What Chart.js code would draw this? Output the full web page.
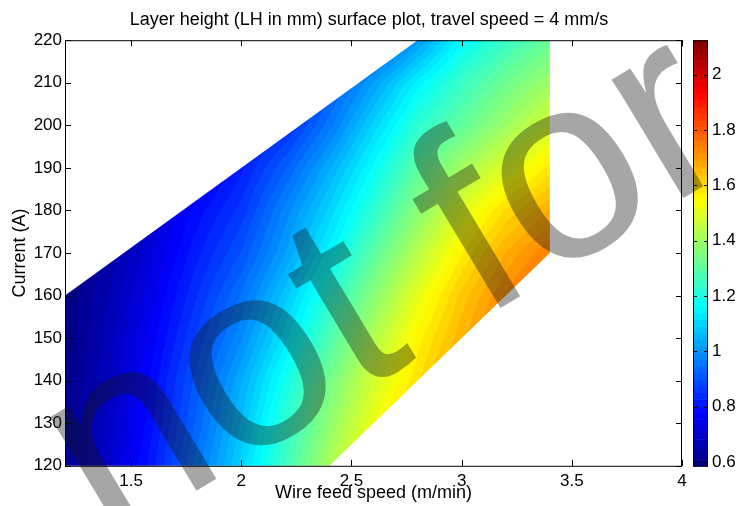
<!DOCTYPE html>
<html lang="en">
<head>
<meta charset="UTF-8">
<title>Layer height surface plot</title>
<script src="https://cdn.jsdelivr.net/npm/chart.js@4"></script>
<style>
  html, body { margin: 0; padding: 0; background: #fff; }
  canvas { display: block; }
</style>
</head>
<body>
<canvas id="lhChart" width="738" height="506"></canvas>
<script>
// grid of the surface: wire feed speed (m/min) and current (A)
const wfsGrid = [1.2, 1.4, 1.6, 1.8, 2.0, 2.2, 2.4, 2.6, 2.8, 3.0, 3.2, 3.4];
const currentGrid = [120, 130, 140, 150, 160, 170, 180, 190, 200, 210, 220];

// layer height (mm), one row per current value, null = far outside the window
const lh120 = [0.62, 0.70, 0.82, 0.96, 1.10, 1.26, 1.42, 1.58, null, null, null, null];
const lh130 = [0.61, 0.69, 0.80, 0.93, 1.07, 1.23, 1.38, 1.52, 1.65, null, null, null];
const lh140 = [0.60, 0.68, 0.79, 0.91, 1.04, 1.19, 1.34, 1.48, 1.59, 1.71, null, null];
const lh150 = [0.59, 0.67, 0.77, 0.88, 0.99, 1.13, 1.28, 1.43, 1.56, 1.66, 1.76, null];
const lh160 = [0.59, 0.66, 0.75, 0.85, 0.95, 1.08, 1.22, 1.37, 1.51, 1.63, 1.72, 1.80];
const lh170 = [0.58, 0.64, 0.73, 0.82, 0.90, 1.02, 1.15, 1.30, 1.44, 1.57, 1.67, 1.74];
const lh180 = [null, 0.62, 0.71, 0.79, 0.86, 0.98, 1.10, 1.23, 1.37, 1.50, 1.60, 1.67];
const lh190 = [null, null, null, 0.74, 0.82, 0.92, 1.04, 1.17, 1.30, 1.41, 1.50, 1.58];
const lh200 = [null, null, null, null, 0.78, 0.84, 0.96, 1.10, 1.23, 1.31, 1.40, 1.48];
const lh210 = [null, null, null, null, null, 0.80, 0.90, 1.02, 1.15, 1.25, 1.33, 1.40];
const lh220 = [null, null, null, null, null, null, null, 0.88, 1.01, 1.16, 1.25, 1.32];
const lhRows = [lh120, lh130, lh140, lh150, lh160, lh170, lh180, lh190, lh200, lh210, lh220];

// outline of the process window that is coloured
const windowWfs = [1.2, 1.2, 2.8, 3.4, 3.4, 2.4];
const windowCurrent = [120, 160, 220, 220, 170, 120];

const xTicks = [1.5, 2, 2.5, 3, 3.5, 4];
const yTicks = [120, 130, 140, 150, 160, 170, 180, 190, 200, 210, 220];
const cbTicks = [0.6, 0.8, 1, 1.2, 1.4, 1.6, 1.8, 2];
const cbMin = 0.586;
const cbMax = 2.125;
const nColors = 64;

const FONT = "'Liberation Sans', Arial, Helvetica, sans-serif";

// matlab style jet colormap
function jet(t) {
  const c = v => Math.round(255 * Math.max(0, Math.min(1, v)));
  return [c(Math.min(4 * t - 1.5, -4 * t + 4.5)),
          c(Math.min(4 * t - 0.5, -4 * t + 3.5)),
          c(Math.min(4 * t + 0.5, -4 * t + 2.5))];
}
function colorIndex(v) {
  let k = Math.floor((v - cbMin) / (cbMax - cbMin) * nColors);
  return Math.max(0, Math.min(nColors - 1, k));
}

// bilinear lookup in the grid, skipping missing nodes
function lhAt(w, c) {
  let i = 0;
  while (i < wfsGrid.length - 2 && w > wfsGrid[i + 1]) i++;
  let j = 0;
  while (j < currentGrid.length - 2 && c > currentGrid[j + 1]) j++;
  const tx = (w - wfsGrid[i]) / (wfsGrid[i + 1] - wfsGrid[i]);
  const ty = (c - currentGrid[j]) / (currentGrid[j + 1] - currentGrid[j]);
  const nodes = [
    [lhRows[j][i], (1 - tx) * (1 - ty)],
    [lhRows[j][i + 1], tx * (1 - ty)],
    [lhRows[j + 1][i], (1 - tx) * ty],
    [lhRows[j + 1][i + 1], tx * ty]
  ];
  let s = 0, ws = 0;
  for (const [v, wt] of nodes) {
    if (v !== null) { s += v * wt; ws += wt; }
  }
  return ws > 0 ? s / ws : null;
}

const surfacePlugin = {
  id: 'surface',
  beforeDatasetsDraw(chart) {
    const {ctx, chartArea: area, scales: {x, y}} = chart;
    const w = Math.round(area.right - area.left);
    const h = Math.round(area.bottom - area.top);
    const off = document.createElement('canvas');
    off.width = w; off.height = h;
    const octx = off.getContext('2d');
    const img = octx.createImageData(w, h);
    const colors = [];
    for (let k = 0; k < nColors; k++) colors.push(jet((k + 0.5) / nColors));
    for (let py = 0; py < h; py++) {
      const c = y.getValueForPixel(area.top + py + 0.5);
      for (let px = 0; px < w; px++) {
        const wv = x.getValueForPixel(area.left + px + 0.5);
        if (wv > 3.45) continue;
        const v = lhAt(wv, c);
        if (v === null) continue;
        const col = colors[colorIndex(v)];
        const p = (py * w + px) * 4;
        img.data[p] = col[0]; img.data[p + 1] = col[1]; img.data[p + 2] = col[2]; img.data[p + 3] = 255;
      }
    }
    octx.putImageData(img, 0, 0);
    ctx.save();
    ctx.beginPath();
    windowWfs.forEach((wv, k) => {
      const px = x.getPixelForValue(wv), py = y.getPixelForValue(windowCurrent[k]);
      if (k === 0) ctx.moveTo(px, py); else ctx.lineTo(px, py);
    });
    ctx.closePath();
    ctx.clip();
    ctx.drawImage(off, area.left, area.top);
    ctx.restore();
  },
  afterDraw(chart) {
    const {ctx, chartArea: area, scales: {x, y, cb}} = chart;
    ctx.save();
    // box and inward ticks
    ctx.strokeStyle = '#000';
    ctx.lineWidth = 1;
    ctx.strokeRect(area.left + 0.5, area.top + 0.5, area.right - area.left - 1, area.bottom - area.top);
    ctx.beginPath();
    xTicks.forEach(v => {
      const px = Math.round(x.getPixelForValue(v)) + 0.5;
      ctx.moveTo(px, area.bottom); ctx.lineTo(px, area.bottom - 6);
      ctx.moveTo(px, area.top); ctx.lineTo(px, area.top + 6);
    });
    yTicks.forEach(v => {
      const py = Math.round(y.getPixelForValue(v)) + 0.5;
      ctx.moveTo(area.left, py); ctx.lineTo(area.left + 6, py);
      ctx.moveTo(area.right, py); ctx.lineTo(area.right - 6, py);
    });
    ctx.stroke();

    // colour bar
    const barL = 693, barW = 15;
    for (let k = 0; k < nColors; k++) {
      const v0 = cbMin + k * (cbMax - cbMin) / nColors;
      const v1 = cbMin + (k + 1) * (cbMax - cbMin) / nColors;
      const y0 = cb.getPixelForValue(v0), y1 = cb.getPixelForValue(v1);
      const col = jet((k + 0.5) / nColors);
      ctx.fillStyle = `rgb(${col[0]},${col[1]},${col[2]})`;
      ctx.fillRect(barL, y1, barW, y0 - y1 + 0.6);
    }
    ctx.strokeRect(barL + 0.5, cb.top + 0.5, barW - 1, cb.bottom - cb.top);
    ctx.beginPath();
    cbTicks.forEach(v => {
      const py = Math.round(cb.getPixelForValue(v)) + 0.5;
      ctx.moveTo(barL, py); ctx.lineTo(barL + 4, py);
      ctx.moveTo(barL + barW, py); ctx.lineTo(barL + barW - 4, py);
    });
    ctx.stroke();

    // watermark
    ctx.translate(106, 545);
    ctx.rotate(-31 * Math.PI / 180);
    ctx.font = `262px ${FONT}`;
    ctx.fillStyle = 'rgba(20,20,20,0.38)';
    ctx.textAlign = 'left';
    ctx.textBaseline = 'alphabetic';
    ctx.fillText('not for', 0, 0);
    ctx.restore();
  }
};

const tickFont = {family: FONT, size: 17};
const labelFont = {family: FONT, size: 18};

new Chart(document.getElementById('lhChart'), {
  type: 'scatter',
  data: {
    datasets: [{
      label: 'process window',
      data: windowWfs.map((w, k) => ({x: w, y: windowCurrent[k]})),
      pointRadius: 0,
      showLine: false
    }]
  },
  options: {
    responsive: false,
    animation: false,
    events: [],
    layout: {padding: 0},
    plugins: {
      legend: {display: false},
      tooltip: {enabled: false},
      title: {
        display: true,
        text: 'Layer height (LH in mm) surface plot, travel speed = 4 mm/s',
        color: '#000',
        font: {family: FONT, size: 18, weight: 'normal'},
        padding: {top: 7, bottom: 9.4}
      }
    },
    scales: {
      x: {
        type: 'linear', position: 'bottom', min: 1.2, max: 4,
        afterBuildTicks: s => { s.ticks = xTicks.map(v => ({value: v})); },
        afterFit: s => { s.height = 40; },
        grid: {display: false, drawTicks: false},
        border: {display: false},
        ticks: {color: '#000', font: tickFont, padding: 5, autoSkip: false, maxRotation: 0,
                callback: v => String(v)},
        title: {display: true, text: 'Wire feed speed (m/min)', color: '#000', font: labelFont,
                padding: {top: 0, bottom: 2}}
      },
      y: {
        type: 'linear', position: 'left', min: 120, max: 220,
        afterBuildTicks: s => { s.ticks = yTicks.map(v => ({value: v})); },
        afterFit: s => { s.width = 65; },
        grid: {display: false, drawTicks: false},
        border: {display: false},
        ticks: {color: '#000', font: tickFont, padding: 3, autoSkip: false,
                callback: v => String(v)},
        title: {display: true, text: 'Current (A)', color: '#000', font: labelFont,
                padding: {top: 9, bottom: 0}}
      },
      cb: {
        type: 'linear', position: 'right', min: cbMin, max: cbMax,
        afterBuildTicks: s => { s.ticks = cbTicks.map(v => ({value: v})); },
        afterFit: s => { s.width = 56; },
        grid: {display: false, drawTicks: false},
        border: {display: false},
        ticks: {color: '#000', font: tickFont, padding: 30, autoSkip: false,
                callback: v => String(v)}
      }
    }
  },
  plugins: [surfacePlugin]
});
</script>
</body>
</html>
